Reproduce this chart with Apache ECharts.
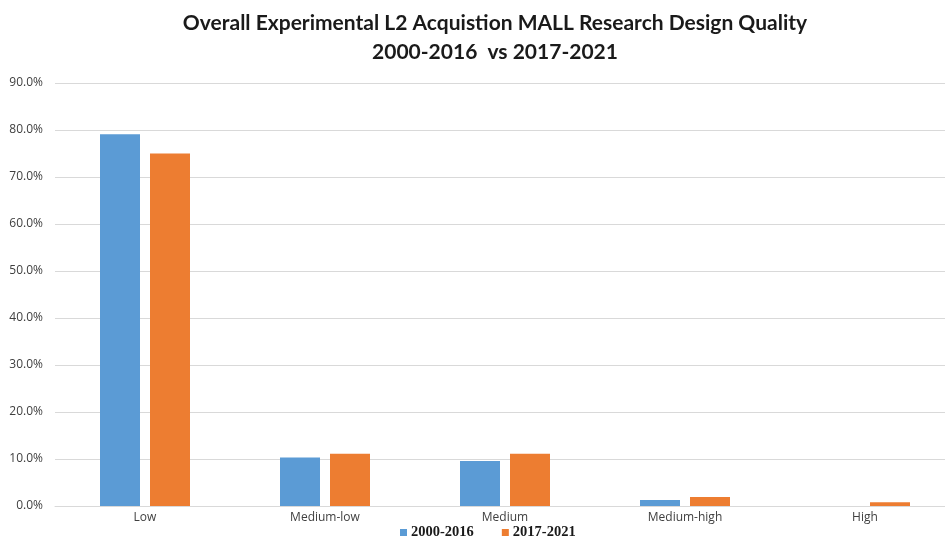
<!DOCTYPE html>
<html>
<head>
<meta charset="utf-8">
<script src="https://cdn.jsdelivr.net/npm/echarts@6/dist/echarts.min.js"></script>
<style>
html,body{margin:0;padding:0;background:#fff;overflow:hidden;width:945px;height:538px;}
#chart{width:955px;height:538px;}
</style>
</head>
<body>
<div id="chart"></div>
<script>
const categories = ['Low', 'Medium-low', 'Medium', 'Medium-high', 'High'];
const series2000_2016 = [79.1, 10.3, 9.6, 1.3, 0];
const series2017_2021 = [75.0, 11.1, 11.1, 1.9, 0.8];
const seriesNames = ['2000-2016', '2017-2021'];
const titleLines = ['Overall Experimental L2 Acquistion MALL Research Design Quality', '2000-2016  vs 2017-2021'];

const chart = echarts.init(document.getElementById('chart'), null, {renderer: 'canvas'});
chart.setOption({
  backgroundColor: '#ffffff',
  animation: false,
  title: {
    text: titleLines.join('\n'),
    left: 490,
    textAlign: 'center',
    top: 4,
    textStyle: {
      fontFamily: 'Lato, "Open Sans", sans-serif',
      fontWeight: 'bold',
      fontSize: 21,
      color: '#1a1a1a',
      lineHeight: 29
    }
  },
  legend: {
    data: seriesNames,
    top: 525,
    left: 400,
    padding: 0,
    itemWidth: 7,
    itemHeight: 7,
    itemGap: 28,
    icon: 'rect',
    textStyle: {
      fontFamily: '"Liberation Serif", "DejaVu Serif", serif',
      fontWeight: 'bold',
      fontSize: 14.5,
      color: '#1a1a1a',
      padding: [0, 0, 0, -1]
    }
  },
  grid: {
    left: 55,
    right: 0,
    top: 83,
    bottom: 32,
    containLabel: false
  },
  xAxis: {
    type: 'category',
    data: categories,
    axisLine: {lineStyle: {color: '#d9d9d9', width: 1}},
    axisTick: {show: false},
    axisLabel: {
      fontFamily: '"Liberation Sans Narrow", "Open Sans", sans-serif',
      fontSize: 12,
      color: '#404040',
      margin: 6
    }
  },
  yAxis: {
    type: 'value',
    min: 0,
    max: 90,
    interval: 10,
    axisLine: {show: false},
    axisTick: {show: false},
    splitLine: {lineStyle: {color: '#d9d9d9', width: 1}},
    axisLabel: {
      formatter: v => v.toFixed(1) + '%',
      fontFamily: '"Liberation Sans Narrow", "Open Sans", sans-serif',
      fontSize: 12,
      color: '#404040',
      margin: 12
    }
  },
  series: [
    {
      name: seriesNames[0],
      type: 'bar',
      data: series2000_2016,
      barGap: '25%',
      barCategoryGap: '50%',
      itemStyle: {color: '#5b9bd5'}
    },
    {
      name: seriesNames[1],
      type: 'bar',
      data: series2017_2021,
      barGap: '25%',
      barCategoryGap: '50%',
      itemStyle: {color: '#ed7d31'}
    }
  ]
});
</script>
</body>
</html>
